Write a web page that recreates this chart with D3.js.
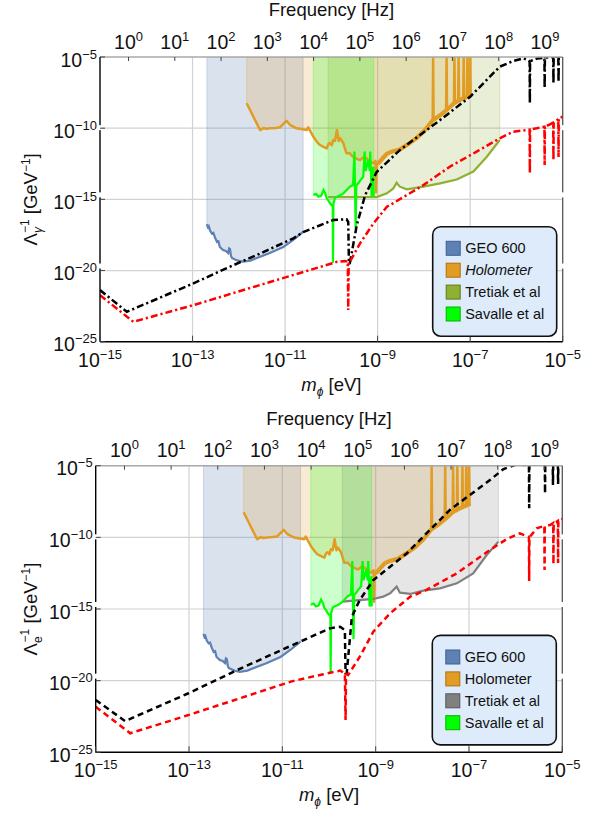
<!DOCTYPE html>
<html><head><meta charset="utf-8">
<script src="https://cdn.jsdelivr.net/npm/d3@7"></script>
<style>
body{margin:0;background:#fff}
svg{display:block}
text{font-family:"Liberation Sans",Arial,Helvetica,sans-serif;fill:#111}
</style>
</head><body>
<svg id="c" width="595" height="817"></svg>
<script>
// ---------------- DATA (log10 values: [log10 m_phi/eV, log10 Lambda^-1/GeV^-1]) ----------------
const massTickExps = [-15, -13, -11, -9, -7, -5];
const coupTickExps = [-25, -20, -15, -10, -5];
const freqTickExps = [0, 1, 2, 3, 4, 5, 6, 7, 8, 9];
const massGridExps = [-13, -11, -9, -7];
const coupGridExps = [-20, -15, -10];
const PLANCK_EVS = 4.135667e-15;

const legendNames = ["GEO 600", "Holometer", "Tretiak et al", "Savalle et al"];

const geoCurve = [[-12.69,-16.74],[-12.67,-16.95],[-12.65,-16.88],[-12.62,-17.2],[-12.58,-17.4],[-12.55,-17.35],[-12.51,-17.72],
 [-12.47,-18.0],[-12.44,-17.95],[-12.41,-18.35],[-12.34,-18.56],[-12.28,-18.62],[-12.23,-18.77],[-12.21,-18.45],[-12.19,-18.5],
 [-12.17,-18.95],[-12.15,-19.12],[-12.08,-19.22],[-12.02,-19.31],[-11.91,-19.38],[-11.75,-19.3],[-11.61,-19.12],[-11.33,-18.77],
 [-11.04,-18.35],[-10.83,-17.86],[-10.61,-17.28]];

const holoCurve = [[-11.83,-8.25],[-11.54,-10.13],[-11.46,-9.99],[-11.40,-10.05],[-11.33,-10.01],[-11.20,-9.98],[-11.11,-9.94],
 [-10.97,-9.48],[-10.89,-9.78],[-10.75,-10.01],[-10.53,-10.13],[-10.50,-9.94],[-10.39,-10.60],[-10.30,-11.0],[-10.25,-11.18],
 [-10.18,-11.3],[-10.10,-11.42],[-10.06,-11.1],[-10.03,-11.04],[-9.99,-11.2],[-9.96,-10.83],[-9.92,-10.9],[-9.88,-10.13],
 [-9.84,-10.9],[-9.81,-10.71],[-9.74,-11.06],[-9.70,-11.5],[-9.67,-11.77],[-9.60,-11.77],[-9.53,-12.01],[-9.45,-12.15],
 [-9.38,-12.24],[-9.30,-12.05],[-9.24,-12.12],[-9.16,-12.35],[-9.09,-12.47],[-9.045,-12.3],[-9.035,-14.5],[-9.02,-12.65],
 [-8.99,-12.5],[-8.90,-12.15],[-8.80,-11.8],[-8.70,-11.65],[-8.52,-11.5],[-8.33,-11.1],[-8.16,-10.7],[-7.98,-10.15],
 [-7.81,-9.45],[-7.80,-5.0],[-7.79,-9.4],[-7.65,-9.1],[-7.52,-8.75],[-7.51,-5.0],[-7.50,-8.7],[-7.35,-8.25],[-7.34,-5.0],
 [-7.33,-8.2],[-7.26,-8.1],[-7.25,-5.0],[-7.24,-8.05],[-7.15,-7.9],[-7.14,-5.0],[-7.13,-7.88],[-7.07,-7.8],[-7.06,-5.0],
 [-7.05,-7.78],[-7.01,-7.7],[-7.00,-5.0],[-6.99,-7.68],[-6.97,-7.65]];

const savalleCurve = [[-10.39,-14.70],[-10.33,-14.62],[-10.28,-14.82],[-10.22,-14.75],[-10.17,-14.35],[-10.13,-14.6],
 [-10.10,-14.93],[-10.06,-15.1],[-10.03,-15.28],[-9.97,-15.5],[-9.965,-19.45],[-9.955,-15.3],[-9.92,-14.9],[-9.88,-14.82],
 [-9.80,-14.7],[-9.74,-14.58],[-9.67,-14.35],[-9.60,-14.11],[-9.53,-14.0],[-9.50,-11.65],[-9.49,-14.0],[-9.475,-17.1],
 [-9.46,-14.0],[-9.42,-13.88],[-9.36,-13.6],[-9.31,-13.41],[-9.28,-11.65],[-9.26,-13.0],[-9.20,-12.24],[-9.17,-13.0],
 [-9.16,-11.65],[-9.14,-13.5],[-9.13,-14.82],[-9.11,-13.0],[-9.09,-12.71],[-9.085,-14.82]];

const tretiakPhoton = [[-10.07,-14.84],[-9.5,-14.84],[-9.02,-14.84],[-8.80,-14.58],[-8.66,-14.23],[-8.59,-13.83],[-8.52,-14.11],
 [-8.37,-14.30],[-8.01,-14.11],[-7.65,-13.88],[-7.29,-13.61],[-6.93,-13.05],[-6.64,-12.01],[-6.36,-10.83]];

const tretiakElectron = [[-9.715,-14.49],[-9.05,-14.30],[-8.84,-14.14],[-8.69,-13.90],[-8.55,-13.44],[-8.48,-13.86],[-8.26,-13.95],
 [-7.98,-13.72],[-7.62,-13.56],[-7.26,-13.21],[-6.91,-12.51],[-6.62,-11.23],[-6.37,-10.30]];

const blackPhoton = [[-15,-21.37],[-14.42,-22.90],[-12.98,-20.90],[-12.26,-19.83],[-11.5,-18.75],[-10.82,-17.74],[-10.61,-17.30],
 [-9.96,-16.45],[-9.67,-16.40],[-9.635,-16.6],[-9.62,-19.48],[-9.60,-19.48],[-9.45,-16.81],[-9.27,-14.70],[-9.02,-13.08],
 [-8.52,-11.54],[-7.65,-9.43],[-7.0,-7.79],[-6.36,-5.68],[-6.07,-5.28],[-5.85,-5.09],[-5.75,-5.21],[-5.715,-5.3],[-5.71,-8.25],
 [-5.705,-5.3],[-5.55,-5.1],[-5.395,-5.05],[-5.39,-7.18],[-5.385,-5.05],[-5.205,-5.0],[-5.20,-6.83],[-5.195,-5.0],
 [-5.095,-4.97],[-5.09,-6.76],[-5.085,-4.97],[-5.0,-4.95]];

const redPhoton = [[-15,-21.73],[-14.28,-23.60],[-12.98,-22.43],[-10.83,-20.32],[-9.88,-19.39],[-9.70,-19.34],[-9.645,-19.36],
 [-9.635,-22.78],[-9.625,-19.4],[-9.60,-19.39],[-9.38,-18.09],[-9.09,-16.69],[-8.80,-15.52],[-8.73,-15.40],[-8.01,-14.0],
 [-7.44,-12.71],[-6.86,-11.65],[-6.36,-10.71],[-6.07,-10.25],[-5.78,-10.13],[-5.715,-10.1],[-5.71,-13.17],[-5.705,-10.1],
 [-5.56,-10.01],[-5.45,-9.92],[-5.395,-9.9],[-5.39,-12.59],[-5.385,-9.85],[-5.30,-9.78],[-5.205,-9.6],[-5.20,-12.24],
 [-5.195,-9.6],[-5.14,-9.50],[-5.095,-9.35],[-5.09,-12.03],[-5.085,-9.3],[-5.04,-9.25],[-5.0,-9.18]];

const blackElectron = [[-15,-21.35],[-14.37,-22.82],[-13.01,-20.88],[-12.34,-19.84],[-12.05,-19.38],[-10.62,-17.28],[-9.98,-16.35],
 [-9.76,-16.24],[-9.66,-16.47],[-9.645,-19.49],[-9.62,-19.49],[-9.51,-15.54],[-9.41,-14.84],[-9.34,-14.37],[-9.05,-12.98],
 [-8.69,-12.05],[-8.33,-11.11],[-7.84,-9.49],[-7.41,-8.09],[-6.98,-7.04],[-6.55,-6.0],[-6.26,-5.23],[-5.98,-4.92],
 [-5.73,-4.95],[-5.715,-4.97],[-5.71,-7.97],[-5.705,-4.97],[-5.56,-4.9],[-5.375,-4.92],[-5.37,-6.93],[-5.365,-4.92],
 [-5.205,-4.92],[-5.20,-6.35],[-5.195,-4.92],[-5.095,-4.92],[-5.09,-6.28],[-5.085,-4.92],[-5.0,-4.9]];

const redElectron = [[-15,-21.82],[-14.26,-23.67],[-13.01,-22.40],[-10.8,-20.05],[-10.12,-19.55],[-9.76,-19.3],[-9.66,-19.49],
 [-9.645,-22.75],[-9.635,-19.55],[-9.59,-19.61],[-9.34,-18.33],[-9.05,-16.58],[-8.69,-15.30],[-8.26,-14.14],[-7.91,-13.67],
 [-7.26,-12.51],[-6.55,-10.88],[-6.19,-10.12],[-5.91,-9.72],[-5.73,-9.95],[-5.715,-10.0],[-5.71,-13.05],[-5.705,-10.0],
 [-5.55,-9.37],[-5.385,-9.2],[-5.38,-12.28],[-5.375,-9.2],[-5.26,-9.14],[-5.195,-9.0],[-5.19,-11.86],[-5.185,-9.0],
 [-5.13,-8.93],[-5.095,-8.85],[-5.09,-11.79],[-5.085,-8.85],[-5.03,-8.79],[-5.0,-8.72]];

// ---------------- STYLE / LAYOUT ----------------
const COL = {geo:"#5e81b5", holo:"#e19c24", olive:"#8fb032", gray:"#808080", sav:"#00ff00"};
const panels = [
  {left:100, right:562.7, top:57, bottom:341.7, tre:tretiakPhoton, treCol:COL.olive, treEdge:"#5f7a1a",
   black:blackPhoton, red:redPhoton, dash:"7,3,2.2,3", sub:"γ", holoItalic:true},
  {left:95.7, right:562.3, top:465.7, bottom:752.3, tre:tretiakElectron, treCol:COL.gray, treEdge:"#555",
   black:blackElectron, red:redElectron, dash:"6,4", sub:"e", holoItalic:false}
];

const svg = d3.select("#c");
const defs = svg.append("defs");

function sup(e){ return (e<0 ? "\u2212"+(-e) : String(e)); }

panels.forEach((p, idx) => {
  const x = d3.scaleLog().domain([1e-15,1e-5]).range([p.left,p.right]);
  const y = d3.scaleLog().domain([1e-25,1e-5]).range([p.bottom,p.top]);
  const X = d => x(Math.pow(10,d[0]));
  const Y = d => y(Math.pow(10,d[1]));
  const g = svg.append("g");
  const cid = "clip"+idx;
  defs.append("clipPath").attr("id",cid).append("rect")
    .attr("x",p.left).attr("y",p.top).attr("width",p.right-p.left).attr("height",p.bottom-p.top);

  // grid
  g.selectAll(".vg").data(massGridExps).join("line")
    .attr("x1",e=>x(Math.pow(10,e))).attr("x2",e=>x(Math.pow(10,e)))
    .attr("y1",p.top).attr("y2",p.bottom).attr("stroke","#d2d2d2").attr("stroke-width",1.2);
  g.selectAll(".hg").data(coupGridExps).join("line")
    .attr("y1",e=>y(Math.pow(10,e))).attr("y2",e=>y(Math.pow(10,e)))
    .attr("x1",p.left).attr("x2",p.right).attr("stroke","#d2d2d2").attr("stroke-width",1.2);

  const plot = g.append("g").attr("clip-path",`url(#${cid})`);
  const area = d3.area().x(X).y0(()=>y(1e-5)).y1(Y);
  const line = d3.line().x(X).y(Y);

  const regions = [
    [geoCurve, COL.geo, 0.23],
    [holoCurve, COL.holo, 0.2],
    [p.tre, p.treCol, 0.2],
    [savalleCurve, COL.sav, 0.2]
  ];
  regions.forEach(([d,c,a]) => {
    plot.append("path").attr("d",area(d)).attr("fill",c).attr("fill-opacity",a)
      .attr("stroke",c).attr("stroke-opacity",0.25).attr("stroke-width",1);
  });
  // curves
  plot.append("path").attr("d",line(geoCurve)).attr("fill","none").attr("stroke",COL.geo).attr("stroke-width",2.2);
  plot.append("path").attr("d",line(holoCurve)).attr("fill","none").attr("stroke",COL.holo).attr("stroke-width",2.5)
    .attr("stroke-linejoin","round");
  // noisy high-frequency Holometer band drawn thicker
  plot.append("path").attr("d",line(holoCurve.filter(d => d[0] > -9.0 && d[1] < -6)))
    .attr("fill","none").attr("stroke",COL.holo).attr("stroke-width",4.2).attr("stroke-linejoin","round");
  plot.append("path").attr("d",line(p.tre)).attr("fill","none").attr("stroke",p.treCol).attr("stroke-width",2.2);
  plot.append("path").attr("d",line(savalleCurve)).attr("fill","none").attr("stroke",COL.sav).attr("stroke-width",2.2);
  plot.append("path").attr("d",line(p.black)).attr("fill","none").attr("stroke","#000").attr("stroke-width",2.5)
    .attr("stroke-dasharray",p.dash);
  plot.append("path").attr("d",line(p.red)).attr("fill","none").attr("stroke","#ff0000").attr("stroke-width",2.5)
    .attr("stroke-dasharray",p.dash);

  // frame
  g.append("line").attr("x1",p.left).attr("x2",p.right).attr("y1",p.top).attr("y2",p.top).attr("stroke","#a8a8a8").attr("stroke-width",1.6);
  g.append("line").attr("x1",p.right).attr("x2",p.right).attr("y1",p.top).attr("y2",p.bottom).attr("stroke","#555").attr("stroke-width",1.3);
  g.append("line").attr("x1",p.left).attr("x2",p.right).attr("y1",p.bottom).attr("y2",p.bottom).attr("stroke","#000").attr("stroke-width",1.4);
  g.append("line").attr("x1",p.left).attr("x2",p.left).attr("y1",p.top).attr("y2",p.bottom).attr("stroke","#000").attr("stroke-width",1.4);
  [-20,-15,-10].forEach(e => {
    const yy = y(Math.pow(10,e));
    const h0 = e===-10 ? yy-3 : yy-7;
    [p.left, p.right].forEach(xx => g.append("rect").attr("x",xx-1.5).attr("y",h0).attr("width",3).attr("height",5).attr("fill","#fff"));
  });

  // ticks
  g.selectAll(".bt").data(massTickExps).join("line")
    .attr("x1",e=>x(Math.pow(10,e))).attr("x2",e=>x(Math.pow(10,e)))
    .attr("y1",p.bottom).attr("y2",p.bottom-6).attr("stroke","#444").attr("stroke-width",1);
  g.selectAll(".lt").data(coupTickExps).join("line")
    .attr("y1",e=>y(Math.pow(10,e))).attr("y2",e=>y(Math.pow(10,e)))
    .attr("x1",p.left).attr("x2",p.left+5).attr("stroke","#444").attr("stroke-width",1);
  g.selectAll(".tt").data(freqTickExps).join("line")
    .attr("x1",e=>x(Math.pow(10,e)*PLANCK_EVS)).attr("x2",e=>x(Math.pow(10,e)*PLANCK_EVS))
    .attr("y1",p.top).attr("y2",p.top+4).attr("stroke","#444").attr("stroke-width",1);

  // tick labels
  const FS=19.5, SFS=13;
  function pow(sel, e){
    sel.append("tspan").attr("font-size",FS).text("10");
    sel.append("tspan").attr("font-size",SFS).attr("dy",-8).text(sup(e));
  }
  massTickExps.forEach(e => {
    const t = g.append("text").attr("x",x(Math.pow(10,e))).attr("y",p.bottom+25).attr("text-anchor","middle");
    pow(t,e);
  });
  coupTickExps.forEach(e => {
    const t = g.append("text").attr("x",p.left-3).attr("y",y(Math.pow(10,e))+9.5).attr("text-anchor","end");
    pow(t,e);
  });
  freqTickExps.forEach(e => {
    const t = g.append("text").attr("x",x(Math.pow(10,e)*PLANCK_EVS)).attr("y",p.top-8.5).attr("text-anchor","middle");
    pow(t,e);
  });

  const cx = (p.left+p.right)/2, cy=(p.top+p.bottom)/2;
  // titles
  g.append("text").attr("x",cx).attr("y",p.top-41).attr("text-anchor","middle").attr("font-size",18.5).text("Frequency [Hz]");
  const xt = g.append("text").attr("x",cx).attr("y",p.bottom+49).attr("text-anchor","middle").attr("font-size",18.5);
  xt.append("tspan").attr("font-style","italic").text("m");
  xt.append("tspan").attr("font-style","italic").attr("font-size",12).attr("dy",5).text("ϕ");
  xt.append("tspan").attr("dy",-5).text(" [eV]");
  const yt = g.append("text").attr("transform",`translate(37,${cy}) rotate(-90)`).attr("text-anchor","middle").attr("font-size",18.5);
  yt.append("tspan").text("Λ");
  yt.append("tspan").attr("font-size",12).attr("dy",5).attr("font-style", p.sub==="γ"?"italic":"normal").text(p.sub);
  yt.append("tspan").attr("font-size",12).attr("dx",-6).attr("dy",-13).text("\u22121");
  yt.append("tspan").attr("dy",8).text(" [GeV");
  yt.append("tspan").attr("font-size",12).attr("dy",-7).text("\u22121");
  yt.append("tspan").attr("dy",7).text("]");

  // legend
  const lx = p.right-130, ly = p.top+169.7;
  const lg = g.append("g");
  lg.append("rect").attr("x",lx).attr("y",ly).attr("width",124).attr("height",109.5).attr("rx",8)
    .attr("fill","#ddebfa").attr("stroke","#111").attr("stroke-width",1.6);
  const lcols = [[COL.geo,"#3f5f8f"],[COL.holo,"#b07010"],[p.treCol,p.treEdge],[COL.sav,"#00b400"]];
  legendNames.forEach((n,i) => {
    const yy = ly + 21.6 + i*21.9;
    lg.append("rect").attr("x",lx+13.5).attr("y",yy-7).attr("width",14).attr("height",14)
      .attr("fill",lcols[i][0]).attr("stroke",lcols[i][1]).attr("stroke-width",1);
    lg.append("text").attr("x",lx+32.5).attr("y",yy+5).attr("font-size",14.5)
      .attr("font-style", (i===1 && p.holoItalic)?"italic":"normal").text(n);
  });
});
</script>
</body></html>
